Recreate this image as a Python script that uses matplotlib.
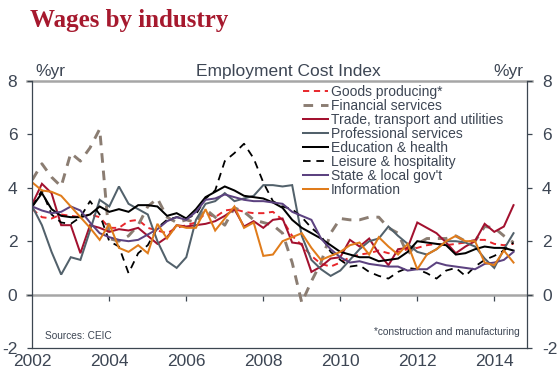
import numpy as np
import matplotlib
matplotlib.use("Agg")
import matplotlib.pyplot as plt

plt.rcParams['font.family'] = ['Liberation Sans', 'DejaVu Sans']
plt.rcParams['axes.unicode_minus'] = False

# ---------------- data (quarterly, 2002Q1 .. 2014Q3) ----------------
quarters = 2002 + 0.25 * np.arange(51)

goods = [3.2, 2.9, 2.85, 3.0, 2.95, 2.9, 3.0, 2.9, 2.5, 2.5, 2.75, 2.8,
         2.5, 2.4, 2.3, 2.5, 2.6, 2.7, 3.05, 2.9, 3.15, 3.2, 3.1, 3.05,
         3.05, 3.1, 2.8, 2.2, 1.85, 1.45, 1.15, 1.05, 1.2, 1.4, 1.5, 1.55,
         1.65, 1.55, 1.6, 1.7, 1.75, 1.85, 1.9, 1.85, 1.9, 1.95, 2.05, 2.05, 1.9, 1.85, 1.9]

financial = [4.3, 4.9, 4.4, 4.05, 5.3, 5.0, 5.5, 6.2, 2.1, 2.0, 2.2, 2.6,
             3.3, 3.6, 2.9, 2.7, 2.8, 2.7, 3.2, 2.9, 2.6, 3.25, 3.1, 2.8,
             2.7, 2.6, 2.3, 1.2, -0.3, 0.5, 1.2, 2.3, 2.85, 2.8, 2.8, 2.9,
             2.9, 2.5, 2.3, 1.5, 1.9, 2.1, 2.1, 2.1, 2.2, 2.0, 2.0, 2.55, 2.5, 2.2, 1.95]

trade = [3.4, 4.15, 3.8, 2.6, 2.6, 1.55, 2.6, 2.5, 2.35, 2.45, 2.4, 2.5,
         2.2, 1.9, 2.15, 2.6, 2.55, 2.6, 2.65, 2.75, 2.95, 3.2, 2.55, 2.75,
         2.5, 2.8, 2.85, 1.95, 1.9, 0.85, 1.05, 1.35, 1.4, 2.05, 1.8, 2.1,
         1.55, 1.1, 1.7, 1.75, 2.7, 2.5, 2.3, 1.95, 1.55, 1.8, 2.0, 2.65, 2.35, 2.55, 3.35]

professional = [3.3, 2.6, 1.6, 0.75, 1.4, 1.3, 2.4, 3.55, 3.3, 4.05, 3.4, 3.2,
                3.0, 2.0, 1.25, 1.0, 1.4, 2.8, 3.4, 3.5, 3.8, 3.5, 3.6, 3.7,
                4.1, 4.1, 4.05, 4.1, 2.2, 1.3, 0.95, 0.7, 0.9, 1.3, 1.7, 2.0,
                2.1, 2.55, 2.2, 1.9, 1.6, 1.5, 1.7, 2.0, 2.0, 1.95, 1.8, 1.35, 1.0, 1.7, 2.3]

education = [3.3, 3.8, 3.2, 2.95, 2.9, 2.9, 3.0, 3.3, 3.1, 3.2, 3.1, 3.35,
             3.35, 3.3, 2.95, 3.05, 2.85, 3.2, 3.65, 3.85, 4.05, 3.9, 3.7, 3.65,
             3.6, 3.45, 3.25, 2.8, 2.5, 2.3, 2.1, 1.85, 1.6, 1.5, 1.4, 1.4,
             1.25, 1.3, 1.35, 1.6, 2.0, 1.95, 1.9, 1.85, 1.5, 1.55, 1.7, 1.8, 1.75, 1.75, 1.65]

leisure = [3.3, 3.9, 3.0, 2.7, 2.65, 2.9, 3.5, 3.0, 2.0, 1.8, 0.8, 1.55,
           1.85, 2.5, 2.8, 2.9, 2.85, 3.0, 3.6, 3.9, 5.0, 5.3, 5.65, 5.1,
           4.2, 3.5, 3.3, 3.2, 2.9, 2.5, 2.2, 1.6, 1.3, 1.05, 1.1, 0.85,
           0.7, 0.6, 0.85, 1.0, 0.95, 0.8, 0.6, 0.9, 1.0, 0.7, 1.05, 1.3, 1.45, 1.65, 1.95]

state = [3.3, 3.15, 3.05, 3.1, 3.3, 3.15, 2.7, 2.3, 2.15, 2.05, 2.0, 2.05,
         2.25, 2.45, 2.75, 2.9, 2.8, 3.1, 3.55, 3.6, 3.75, 3.65, 3.55, 3.5,
         3.5, 3.45, 3.4, 3.1, 2.95, 2.8, 2.1, 1.7, 1.4, 1.2, 1.25, 1.15,
         1.1, 1.05, 1.05, 0.9, 0.95, 0.95, 1.2, 1.1, 1.05, 1.0, 0.95, 1.15, 1.2, 1.3, 1.6]

information = [4.2, 3.9, 3.85, 3.7, 3.3, 2.9, 2.5, 2.05, 2.65, 1.75, 1.6, 1.85,
               1.55, 2.65, 2.1, 2.6, 2.5, 2.5, 3.2, 2.4, 2.85, 3.3, 2.5, 2.7,
               1.45, 1.5, 2.0, 2.15, 2.3, 1.75, 1.3, 1.45, 1.6, 1.85, 1.95, 1.5,
               2.15, 1.8, 1.5, 1.9, 0.95, 1.5, 1.7, 2.0, 2.2, 2.0, 2.0, 1.2, 1.1, 1.65, 1.2]

labels = ["Goods producing*", "Financial services", "Trade, transport and utilities",
          "Professional services", "Education & health", "Leisure & hospitality",
          "State & local gov't", "Information"]

year_ticks = [2002, 2004, 2006, 2008, 2010, 2012, 2014]
y_ticks = [-2, 0, 2, 4, 6, 8]

# ---------------- styling ----------------
TXT = '#3d4654'
AX = '#3c4650'
GRID = '#a6a6a6'

fig = plt.figure(figsize=(5.6, 3.88), dpi=100)
L, R, T, B = 32.3, 527.0, 81.0, 348.0
ax = fig.add_axes([L/560, 1-B/388, (R-L)/560, (B-T)/388])
ax.set_xlim(2002, 2014.85)
ax.set_ylim(-2, 8)

series = [
    (goods,        dict(color='#e8262b', lw=1.4, dashes=(3.2, 2.4))),
    (financial,    dict(color='#8b7d72', lw=2.1, dashes=(3.3, 2.7))),
    (trade,        dict(color='#a3112f', lw=1.45)),
    (professional, dict(color='#52616b', lw=1.45)),
    (education,    dict(color='#000000', lw=1.45)),
    (leisure,      dict(color='#000000', lw=1.3, dashes=(4.2, 3.2))),
    (state,        dict(color='#5c4280', lw=1.45)),
    (information,  dict(color='#e07c1b', lw=1.45)),
]
handles = []
for (vals, kw), lab in zip(series, labels):
    h, = ax.plot(quarters, vals, label=lab, solid_joinstyle='miter', **kw)
    handles.append(h)

# reference lines at 0 and 8
ext = 5.0 / (R - L)
for yv in (0, 8):
    ax.axhline(yv, xmin=-ext, xmax=1+ext, color=GRID, lw=1.8, clip_on=False, zorder=1)

for s in ('left', 'right', 'bottom'):
    ax.spines[s].set_color(AX)
    ax.spines[s].set_linewidth(0.9)
ax.spines['top'].set_visible(False)

ax.set_yticks(y_ticks)
ax.tick_params(axis='y', which='both', left=True, right=True, labelleft=True,
               labelright=True, direction='out', length=3.6, width=0.9, color=AX,
               labelsize=12.5, labelcolor=TXT, pad=7.2)
ax.set_xticks(year_ticks)
ax.tick_params(axis='x', length=0, labelsize=12.5, labelcolor=TXT, pad=4)

sec = ax.secondary_xaxis(0.2)
sec.set_xticks(year_ticks[1:])
sec.tick_params(axis='x', direction='out', length=4, width=0.9, color=AX, labelbottom=False)
for s in sec.spines.values():
    s.set_visible(False)

leg = ax.legend(handles=handles, loc='upper left', bbox_to_anchor=(303/560, 1-85/388),
                bbox_transform=fig.transFigure, frameon=False, fontsize=10,
                handlelength=1.8, handletextpad=0.2, labelspacing=0.0,
                borderpad=0, borderaxespad=0, labelcolor=TXT)

fig.text(30/560, 1-27/388, "Wages by industry", family=['Liberation Serif', 'DejaVu Serif'],
         fontsize=18, fontweight='bold', color='#a6192e', va='baseline', ha='left')
fig.text(35/560, 1-76/388, "%yr", fontsize=12.5, color=TXT, va='baseline', ha='left')
fig.text(523/560, 1-76/388, "%yr", fontsize=12.5, color=TXT, va='baseline', ha='right')
fig.text(288/560, 1-76/388, "Employment Cost Index", fontsize=12.5, color=TXT,
         va='baseline', ha='center')
fig.text(45/560, 1-339/388, "Sources: CEIC", fontsize=7.3, color=TXT, va='baseline', ha='left')
fig.text(520/560, 1-335/388, "*construction and manufacturing", fontsize=7.3, color=TXT,
         va='baseline', ha='right')

fig.savefig("out.png", dpi=100)
